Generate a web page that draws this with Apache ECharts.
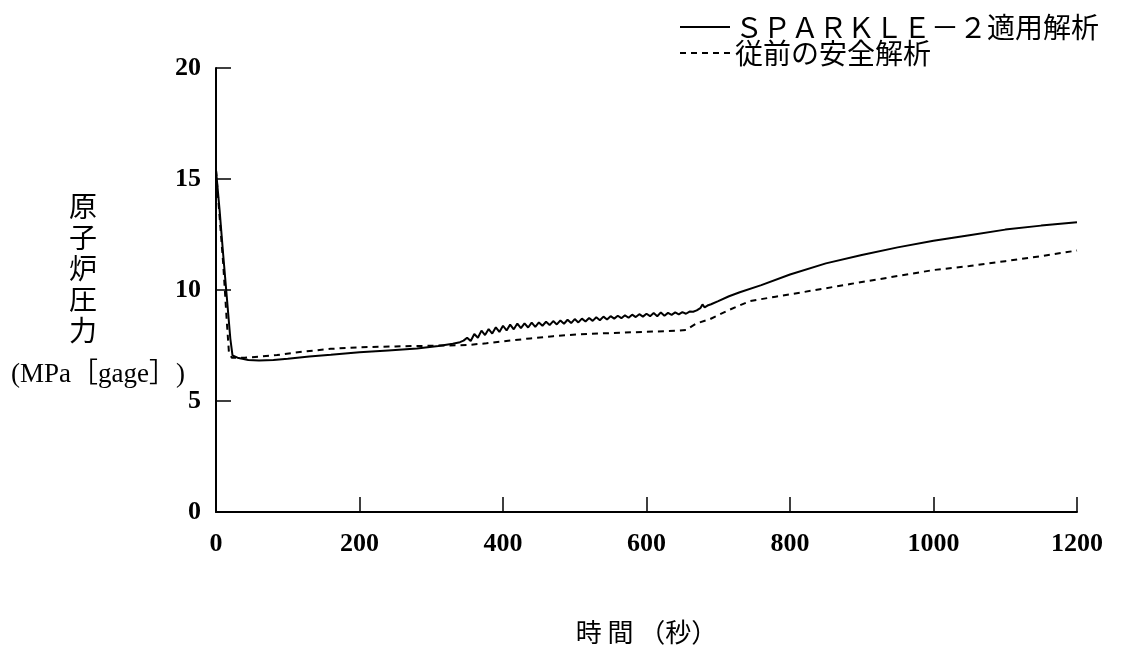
<!DOCTYPE html>
<html>
<head>
<meta charset="utf-8">
<script src="https://cdn.jsdelivr.net/npm/echarts@6/dist/echarts.min.js"></script>
<style>
  html, body { margin: 0; padding: 0; background: #fff; }
  #chart { width: 1142px; height: 650px; }
</style>
</head>
<body>
<div id="chart"></div>
<script>
// reactor pressure after the event, two analyses
var seriesNames = ['ＳＰＡＲＫＬＥ－２適用解析', '従前の安全解析']

// SPARKLE-2 (solid) - time [s]
var sparkleTime = [0, 5, 10, 15, 20, 23, 30, 45, 60, 80, 100, 130, 160, 200, 240, 280, 310, 330, 340, 345,
  350, 355, 360, 365, 370, 375, 380, 385, 390, 395, 400, 405, 410, 415, 420, 425, 430, 435, 440, 445,
  450, 455, 460, 465, 470, 475, 480, 485, 490, 495, 500, 505, 510, 515, 520, 525, 530, 535, 540, 545,
  550, 555, 560, 565, 570, 575, 580, 585, 590, 595, 600, 605, 610, 615, 620, 625, 630, 635, 640, 645,
  650, 655, 660, 665, 670, 675, 678, 681, 685, 690, 700, 715, 730, 760, 800, 850, 900, 950, 1000, 1050,
  1100, 1150, 1200]
// SPARKLE-2 (solid) - pressure [MPa gage]
var sparklePress = [15.4, 13.6, 11.6, 9.7, 7.8, 7.05, 6.95, 6.85, 6.82, 6.85, 6.9, 7.0, 7.08, 7.2, 7.28, 7.36, 7.48, 7.58, 7.65, 7.72,
  7.85, 7.70, 8.02, 7.85, 8.17, 7.97, 8.24, 8.04, 8.32, 8.11, 8.39, 8.18, 8.44, 8.23, 8.49, 8.28, 8.50, 8.31, 8.53, 8.34,
  8.54, 8.39, 8.57, 8.42, 8.60, 8.45, 8.63, 8.48, 8.66, 8.51, 8.69, 8.54, 8.71, 8.58, 8.74, 8.61, 8.77, 8.64, 8.80, 8.67,
  8.82, 8.71, 8.84, 8.73, 8.86, 8.75, 8.89, 8.78, 8.91, 8.80, 8.93, 8.82, 8.96, 8.82, 8.99, 8.84, 8.97, 8.88, 8.99, 8.90,
  9.00, 8.93, 9.03, 9.02, 9.08, 9.18, 9.35, 9.22, 9.30, 9.36, 9.50, 9.72, 9.90, 10.22, 10.70, 11.20, 11.58, 11.92, 12.22, 12.47,
  12.72, 12.90, 13.05]

// conventional analysis (dashed)
var convTime = [0, 5, 10, 15, 18, 22, 40, 60, 85, 120, 160, 200, 250, 284, 320, 350, 377, 410, 438, 470,
  503, 550, 600, 640, 655, 670, 688, 715, 744, 780, 814, 850, 884, 939, 1000, 1050, 1100, 1150, 1200]
var convPress = [15.4, 13.3, 11.2, 8.6, 7.2, 6.95, 6.95, 7.0, 7.07, 7.22, 7.35, 7.42, 7.46, 7.48, 7.5, 7.52, 7.6, 7.72, 7.82, 7.92,
  8.0, 8.06, 8.12, 8.16, 8.2, 8.5, 8.68, 9.1, 9.5, 9.7, 9.88, 10.08, 10.27, 10.57, 10.9, 11.08, 11.3, 11.52, 11.78]

var xTicks = [0, 200, 400, 600, 800, 1000, 1200]
var yTicks = [0, 5, 10, 15, 20]

function zip(xs, ys) {
  return xs.map(function (x, i) { return [x, ys[i]] })
}

var chart = echarts.init(document.getElementById('chart'), null, { renderer: 'canvas' })

var numFont = {
  fontFamily: 'Liberation Serif',
  fontWeight: 'bold',
  fontSize: 26,
  color: '#000',
  formatter: function (v) { return String(v) }
}

chart.setOption({
  animation: false,
  backgroundColor: '#fff',
  grid: { left: 216, right: 65, top: 68, bottom: 138 },
  legend: {
    left: 674,
    top: 8,
    orient: 'vertical',
    itemWidth: 50,
    itemHeight: 14,
    itemGap: -2,
    itemStyle: { opacity: 0 },
    textStyle: { fontFamily: 'Noto Sans CJK JP', fontSize: 28, lineHeight: 26, color: '#000' },
    data: seriesNames
  },
  xAxis: {
    type: 'value',
    min: xTicks[0],
    max: xTicks[xTicks.length - 1],
    interval: 200,
    name: '時 間 （秒）',
    nameLocation: 'middle',
    nameGap: 107,
    nameTextStyle: { fontFamily: 'Noto Sans CJK JP', fontSize: 26, color: '#000' },
    splitLine: { show: false },
    axisLine: { lineStyle: { color: '#000', width: 2 } },
    axisTick: { inside: true, length: 15, lineStyle: { color: '#000', width: 1.5 } },
    axisLabel: Object.assign({ margin: 19 }, numFont)
  },
  yAxis: {
    type: 'value',
    min: yTicks[0],
    max: yTicks[yTicks.length - 1],
    interval: 5,
    splitLine: { show: false },
    axisLine: { show: true, lineStyle: { color: '#000', width: 2 } },
    axisTick: { show: true, inside: true, length: 15, lineStyle: { color: '#000', width: 1.5 } },
    axisLabel: Object.assign({ margin: 15 }, numFont)
  },
  graphic: [
    {
      type: 'text',
      x: 83,
      y: 191,
      style: {
        text: '原\n子\n炉\n圧\n力',
        font: '28px "Noto Sans CJK JP"',
        lineHeight: 31,
        align: 'center',
        fill: '#000'
      }
    },
    {
      type: 'text',
      x: 98,
      y: 375,
      style: {
        text: '(MPa［gage］)',
        font: '27px "Liberation Serif", "Noto Sans CJK JP"',
        align: 'center',
        verticalAlign: 'middle',
        fill: '#000'
      }
    }
  ],
  series: [
    {
      name: seriesNames[0],
      type: 'line',
      data: zip(sparkleTime, sparklePress),
      showSymbol: false,
      symbol: 'none',
      lineStyle: { color: '#000', width: 2 },
      itemStyle: { color: '#000' }
    },
    {
      name: seriesNames[1],
      type: 'line',
      data: zip(convTime, convPress),
      showSymbol: false,
      symbol: 'none',
      lineStyle: { color: '#000', width: 2, type: [6, 5] },
      itemStyle: { color: '#000' }
    }
  ]
})
</script>
</body>
</html>
